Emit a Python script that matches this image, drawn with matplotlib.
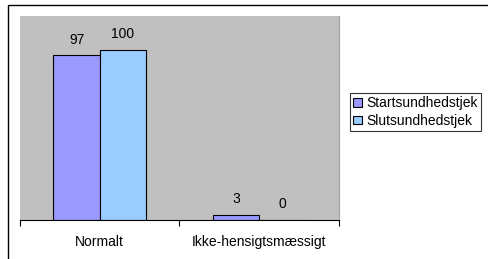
import numpy as np
import matplotlib.pyplot as plt
from matplotlib.patches import Rectangle

categories = ["Normalt", "Ikke-hensigtsmæssigt"]
series_names = ["Startsundhedstjek", "Slutsundhedstjek"]
start_vals = [97, 3]
slut_vals = [100, 0]
colors = ["#9999FF", "#99CCFF"]

plt.rcParams['font.family'] = ['Liberation Sans', 'DejaVu Sans']

W, H = 489, 259
fig = plt.figure(figsize=(W / 100, H / 100), dpi=100)
fig.patch.set_facecolor("white")

# outer chart border
fig.patches.append(Rectangle((8 / W, -0.05), 1.2, 1 - 5 / H + 0.05, transform=fig.transFigure,
                             facecolor="none", edgecolor="black", lw=1.0))

ax = fig.add_axes([20 / W, 1 - 220 / H, (339 - 20) / W, (220 - 16) / H])
ax.set_facecolor("#C0C0C0")

x = np.arange(len(categories))
w = 0.29
b1 = ax.bar(x - w / 2, start_vals, w, color=colors[0], edgecolor="black", lw=0.8,
            label=series_names[0])
b2 = ax.bar(x + w / 2, slut_vals, w, color=colors[1], edgecolor="black", lw=0.8,
            label=series_names[1])
for bars, vals in [(b1, start_vals), (b2, slut_vals)]:
    for r, v in zip(bars, vals):
        ax.text(r.get_x() + r.get_width() / 2, v + 5, str(v), ha="center", va="bottom",
                fontsize=10)

ax.set_xlim(-0.5, 1.5)
ax.set_ylim(0, 120)
ax.set_yticks([])
ax.set_xticks([-0.5, 0.5, 1.5])
ax.set_xticklabels([])
ax.set_xticks(x, minor=True)
ax.set_xticklabels(categories, minor=True, fontsize=10)
ax.tick_params(axis="x", which="major", length=4, width=0.8, direction="out")
ax.tick_params(axis="x", which="minor", length=0, pad=11)
for s in ["left", "top"]:
    ax.spines[s].set_visible(False)
ax.spines["right"].set_color("#a0a0a0")
ax.spines["right"].set_linewidth(0.8)
ax.spines["bottom"].set_linewidth(0.8)

leg = fig.legend(loc="upper left", bbox_to_anchor=(350 / W, 1 - 93 / H), fontsize=10,
                 frameon=True, fancybox=False, handlelength=0.6, handleheight=0.6,
                 handletextpad=0.3, borderpad=0.25, labelspacing=0.25, borderaxespad=0)
leg.get_frame().set_edgecolor("black")
leg.get_frame().set_linewidth(0.8)

fig.savefig("out.png", dpi=100)
